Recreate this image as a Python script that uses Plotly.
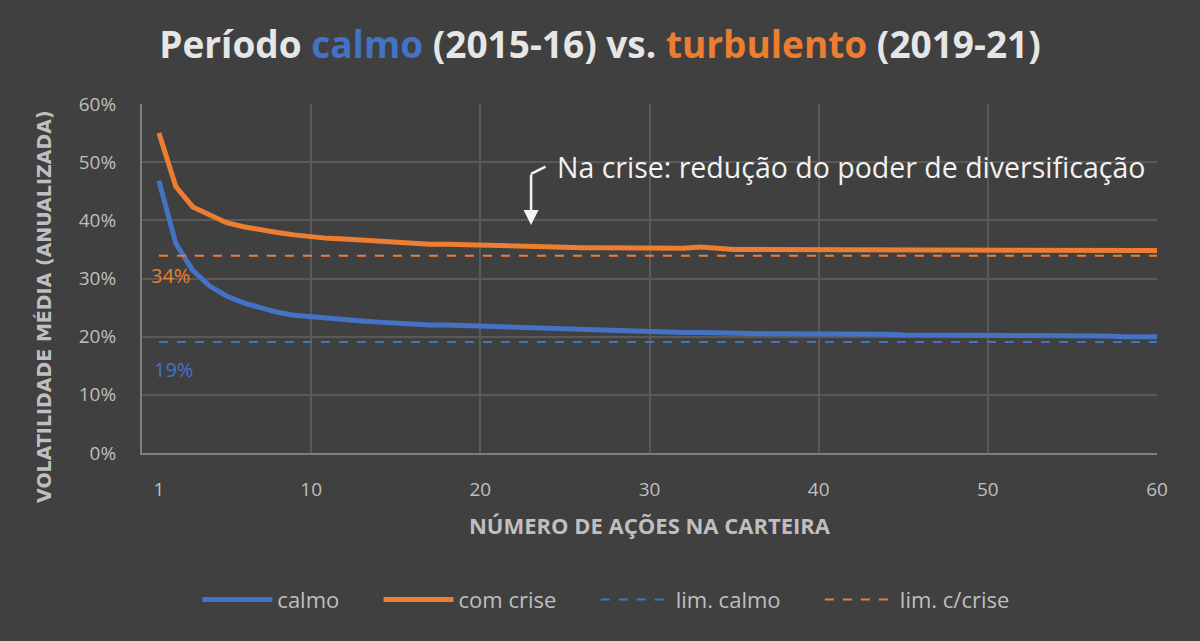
import plotly.graph_objects as go

# número de ações na carteira
n_acoes = list(range(1, 61))

# volatilidade média anualizada (leitura do gráfico)
calmo = [46.8, 36.0, 31.4, 28.7, 27.0, 25.8, 25.0, 24.2, 23.7, 23.4,
         23.1, 22.9, 22.7, 22.5, 22.3, 22.1, 22.0, 22.0, 21.9, 21.8,
         21.6, 21.5, 21.4, 21.3, 21.3, 21.2, 21.0, 21.0, 20.9, 20.9,
         20.8, 20.7, 20.7, 20.6, 20.5, 20.5, 20.5, 20.5, 20.5, 20.5,
         20.5, 20.5, 20.6, 20.4, 20.3, 20.3, 20.3, 20.3, 20.3, 20.3,
         20.3, 20.3, 20.3, 20.3, 20.3, 20.3, 20.1, 20.0, 20.0, 20.0]
com_crise = [55.0, 45.8, 42.3, 40.9, 39.6, 38.9, 38.3, 37.9, 37.5, 37.1,
             36.9, 36.8, 36.6, 36.3, 36.2, 36.1, 35.9, 35.9, 35.8, 35.8,
             35.8, 35.7, 35.6, 35.4, 35.3, 35.3, 35.3, 35.3, 35.3, 35.3,
             35.1, 35.2, 35.4, 35.1, 35.0, 35.0, 35.0, 35.0, 35.0, 35.0,
             35.0, 35.0, 35.0, 34.9, 34.9, 35.0, 35.0, 35.0, 34.9, 34.8,
             34.8, 34.8, 34.8, 34.8, 34.8, 34.8, 34.8, 34.8, 34.8, 34.8]
lim_calmo = 19.1
lim_crise = 33.9

x_ticks = [1, 10, 20, 30, 40, 50, 60]
x_grid = [10, 20, 30, 40, 50, 60]

AZUL = '#4472C4'
LARANJA = '#ED7D31'
FUNDO = '#404040'
GRADE = '#595959'
TEXTO = '#BFBFBF'

calmo = [v / 100 for v in calmo]
com_crise = [v / 100 for v in com_crise]

esp = '\u00a0' * 6  # espaço extra entre itens da legenda

fig = go.Figure()

fig.add_trace(go.Scatter(x=n_acoes, y=calmo, name='calmo' + esp, mode='lines',
                         line=dict(color=AZUL, width=5)))
fig.add_trace(go.Scatter(x=n_acoes, y=com_crise, name='com crise' + esp, mode='lines',
                         line=dict(color=LARANJA, width=5)))
fig.add_trace(go.Scatter(x=n_acoes, y=[lim_calmo / 100] * len(n_acoes), name='lim. calmo' + esp,
                         mode='lines', line=dict(color=AZUL, width=2, dash='dash')))
fig.add_trace(go.Scatter(x=n_acoes, y=[lim_crise / 100] * len(n_acoes), name='lim. c/crise',
                         mode='lines', line=dict(color=LARANJA, width=2, dash='dash')))

titulo = ("<b>Período <span style='color:%s'>calmo</span> (2015-16) vs. "
          "<span style='color:%s'>turbulento</span> (2019-21)</b>" % (AZUL, LARANJA))

fig.update_layout(
    width=1200, height=641,
    paper_bgcolor=FUNDO, plot_bgcolor=FUNDO,
    margin=dict(l=142, r=43, t=104, b=188),
    font=dict(family='Open Sans', color=TEXTO, size=18),
    title=dict(text=titulo, x=0.5, xanchor='center', y=0.93, yanchor='middle',
               font=dict(family='Open Sans', size=37, color='#E6E6E6')),
    showlegend=True,
    legend=dict(orientation='h', x=0.457, xanchor='center', y=-0.42, yanchor='middle',
                font=dict(size=22, color=TEXTO), itemwidth=70,
                bgcolor='rgba(0,0,0,0)'),
)

fig.update_xaxes(
    range=[0, 60], tickvals=x_ticks, ticks='', showgrid=False,
    minor=dict(tickvals=x_grid, showgrid=True, gridcolor=GRADE, gridwidth=1.5, ticks=''),
    showline=True, linecolor='#7F7F7F', linewidth=2, zeroline=False,
    tickfont=dict(size=19, color=TEXTO), ticklabelstandoff=18,
    title=dict(text='<b>NÚMERO DE AÇÕES NA CARTEIRA</b>', standoff=18,
               font=dict(family='Open Sans', size=22, color=TEXTO)),
    fixedrange=True,
)
fig.update_yaxes(
    range=[0, 0.6], dtick=0.1, tickformat='.0%', showgrid=True,
    gridcolor=GRADE, gridwidth=1.5, zeroline=False,
    showline=True, linecolor='#7F7F7F', linewidth=2,
    tickfont=dict(size=19, color=TEXTO), ticklabelstandoff=20,
    fixedrange=True,
)

# título do eixo y (deslocado para baixo como no original)
fig.add_annotation(xref='paper', yref='paper', x=-0.096, y=0.42,
                   text='<b>VOLATILIDADE MÉDIA (ANUALIZADA)</b>', textangle=-90,
                   showarrow=False, xanchor='center', yanchor='middle',
                   font=dict(family='DejaVu Sans', size=19, color=TEXTO))

# rótulos das linhas-limite
fig.add_annotation(x=0.4, y=lim_crise / 100, text='%d%%' % round(lim_crise), showarrow=False,
                   xanchor='left', yanchor='top', yshift=-4,
                   font=dict(size=20, color=LARANJA))
fig.add_annotation(x=0.6, y=lim_calmo / 100, text='%d%%' % round(lim_calmo), showarrow=False,
                   xanchor='left', yanchor='top', yshift=-12,
                   font=dict(size=20, color=AZUL))

# nota com seta
fig.add_annotation(x=24.4, y=0.492, text='Na crise: redução do poder de diversificação',
                   showarrow=False, xanchor='left', yanchor='middle',
                   font=dict(size=28.5, color='#F2F2F2'))
fig.add_annotation(x=23.0, y=0.392, ax=0, ay=-52, text='', showarrow=True,
                   arrowhead=2, arrowsize=1.2, arrowwidth=2.5, arrowcolor='#F2F2F2')
fig.add_annotation(x=23.0, y=0.48, ax=16, ay=-8, text='', showarrow=True,
                   arrowhead=0, arrowwidth=2.5, arrowcolor='#F2F2F2')

fig.write_html("out.html", config={'displayModeBar': False},
               post_script="document.body.style.margin='0';")
